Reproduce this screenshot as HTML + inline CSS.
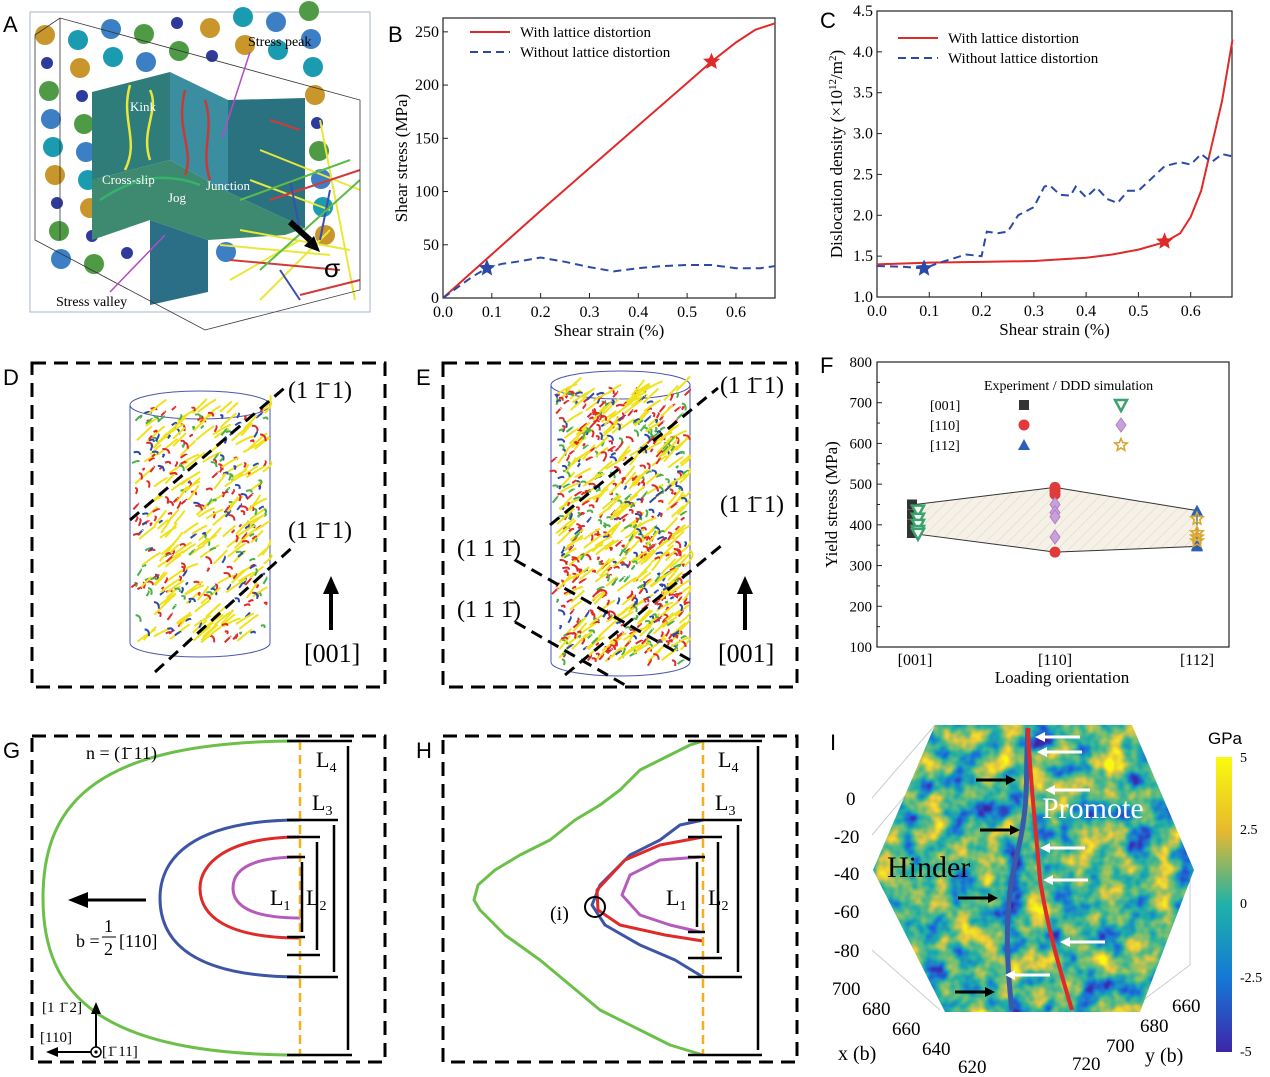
<!DOCTYPE html>
<html><head><meta charset="utf-8"><style>
body{margin:0;background:#fff;width:1270px;height:1077px;overflow:hidden;font-family:"Liberation Serif",serif}
svg{position:absolute;left:0;top:0}
</style></head><body>
<svg id="s" width="1270" height="1077" xmlns="http://www.w3.org/2000/svg" font-family="Liberation Serif, serif">
<defs>
<filter id="noise" x="0" y="0" width="100%" height="100%" color-interpolation-filters="sRGB">
<feTurbulence type="fractalNoise" baseFrequency="0.04" numOctaves="3" seed="4"/>
<feColorMatrix type="matrix" values="1.6 0 0 0 -0.3  1.6 0 0 0 -0.3  1.6 0 0 0 -0.3  0 0 0 0 1"/>
<feComponentTransfer>
<feFuncR type="table" tableValues="0.24 0.10 0.12 0.45 0.90 0.98"/>
<feFuncG type="table" tableValues="0.15 0.45 0.68 0.75 0.78 0.98"/>
<feFuncB type="table" tableValues="0.66 0.85 0.66 0.45 0.25 0.06"/>
</feComponentTransfer>
<feComposite in2="SourceGraphic" operator="in"/>
</filter>
<linearGradient id="parula" x1="0" y1="0" x2="0" y2="1">
<stop offset="0" stop-color="#f9fb0e"/><stop offset="0.25" stop-color="#e7b92e"/><stop offset="0.5" stop-color="#1eb2a8"/><stop offset="0.75" stop-color="#1578d6"/><stop offset="1" stop-color="#3e26a8"/></linearGradient>
<pattern id="hatch" width="8" height="8" patternUnits="userSpaceOnUse" patternTransform="rotate(45)"><rect width="8" height="8" fill="#f6f1e6"/><line x1="0" y1="0" x2="0" y2="8" stroke="#ddd5c4" stroke-width="1"/></pattern>
</defs>

<!-- Panel A -->
<g>
<text x="3" y="32" font-family="Liberation Sans" font-size="22">A</text>
<rect x="30" y="12" width="340" height="300" fill="#fff" stroke="#a9b4c8"/>
<g id="atoms"></g>
<polygon points="92,92 170,72 170,160 92,180" fill="#2f7d7a"/>
<polygon points="170,72 228,100 228,192 170,160" fill="#3a8ea0"/>
<polygon points="228,100 305,98 305,228 228,192" fill="#2a7280"/>
<polygon points="92,180 170,160 228,192 305,228 285,235 208,240 150,220 92,240" fill="#3d8a70"/>
<polygon points="150,220 208,240 208,292 150,305" fill="#2a6f86"/>
<g fill="none" stroke-width="2.5">
<path d="M130,85 C120,120 140,140 125,170" stroke="#e8e83a"/>
<path d="M150,90 C160,110 140,130 150,160" stroke="#e8e83a"/>
<path d="M185,90 C175,130 195,150 185,175" stroke="#c83a3a"/>
<path d="M205,100 C215,130 200,150 210,180" stroke="#c83a3a"/>
<path d="M100,200 C130,180 160,170 200,185" stroke="#35b36b"/>
<path d="M250,180 L330,210 M260,150 L360,190 M240,230 L350,250 M220,245 L330,255 M230,280 L300,240 M260,300 L330,230 M320,120 L355,300" stroke="#e8e83a" stroke-width="2"/>
<path d="M270,200 L360,170 M230,260 L340,270 M300,295 L360,280 M270,120 L300,130" stroke="#d23a3a" stroke-width="2"/>
<path d="M290,180 L300,230 M330,190 L320,240 M280,270 L300,300" stroke="#3a4fb0" stroke-width="2"/>
<path d="M240,200 L350,160 M260,270 L360,180" stroke="#5dbb4a" stroke-width="2"/>
</g>
<g fill="none" stroke="#333" stroke-width="0.8">
<polygon points="35,35 60,18 360,100 360,290 205,330 35,240"/>
<line x1="60" y1="18" x2="60" y2="240"/>
</g>
<text x="248" y="46" font-size="14">Stress peak</text>
<line x1="250" y1="52" x2="222" y2="138" stroke="#b34cc4" stroke-width="1.5"/>
<text x="130" y="111" font-size="13" fill="#fff">Kink</text>
<text x="102" y="184" font-size="13" fill="#fff">Cross-slip</text>
<text x="206" y="190" font-size="13" fill="#fff">Junction</text>
<text x="168" y="202" font-size="13" fill="#fff">Jog</text>
<text x="56" y="306" font-size="14">Stress valley</text>
<line x1="110" y1="292" x2="165" y2="235" stroke="#b34cc4" stroke-width="1.5"/>
<line x1="290" y1="222" x2="310" y2="240" stroke="#000" stroke-width="6"/>
<polygon points="304,246 320,252 314,236" fill="#000"/>
<text x="324" y="277" font-family="Liberation Sans" font-size="26">σ</text>
</g>

<!-- Panel B -->
<g>
<text x="388" y="42" font-family="Liberation Sans" font-size="22">B</text>
<g id="chartB"></g>
</g>
<!-- Panel C -->
<g>
<text x="820" y="28" font-family="Liberation Sans" font-size="22">C</text>
<g id="chartC"></g>
</g>
<!-- Panel F -->
<g>
<text x="820" y="373" font-family="Liberation Sans" font-size="22">F</text>
<g id="chartF"></g>
</g>

<!-- Panel D -->
<g>
<text x="3" y="385" font-family="Liberation Sans" font-size="22">D</text>
<rect x="32" y="363" width="353" height="324" fill="none" stroke="#000" stroke-width="3" stroke-dasharray="14,8"/>
<g id="cylD"></g>
<g stroke="#000" stroke-width="3" stroke-dasharray="12,7" fill="none">
<line x1="130" y1="520" x2="288" y2="385"/><line x1="155" y1="672" x2="295" y2="545"/></g>
<text x="288" y="398" font-size="24">(1 1̄ 1)</text>
<text x="288" y="538" font-size="24">(1 1̄ 1)</text>
<line x1="331" y1="630" x2="331" y2="590" stroke="#000" stroke-width="4"/><polygon points="323,594 339,594 331,576" fill="#000"/>
<text x="304" y="662" font-size="26">[001]</text>
</g>

<!-- Panel E -->
<g>
<text x="416" y="385" font-family="Liberation Sans" font-size="22">E</text>
<rect x="443" y="363" width="354" height="324" fill="none" stroke="#000" stroke-width="3" stroke-dasharray="14,8"/>
<g id="cylE"></g>
<g stroke="#000" stroke-width="3" stroke-dasharray="12,7" fill="none">
<line x1="550" y1="525" x2="718" y2="388"/><line x1="565" y1="675" x2="722" y2="545"/>
<line x1="515" y1="560" x2="690" y2="660"/><line x1="515" y1="622" x2="625" y2="685"/></g>
<text x="720" y="393" font-size="24">(1 1̄ 1)</text>
<text x="720" y="512" font-size="24">(1 1̄ 1)</text>
<text x="457" y="556" font-size="24">(1 1 1̄)</text>
<text x="457" y="617" font-size="24">(1 1 1̄)</text>
<line x1="745" y1="630" x2="745" y2="590" stroke="#000" stroke-width="4"/><polygon points="737,594 753,594 745,576" fill="#000"/>
<text x="718" y="662" font-size="26">[001]</text>
</g>

<!-- Panel G -->
<g>
<text x="3" y="758" font-family="Liberation Sans" font-size="22">G</text>
<rect x="32" y="736" width="353" height="326" fill="none" stroke="#000" stroke-width="3" stroke-dasharray="14,8"/>
<g fill="none" stroke-width="3">
<path d="M300,741 C100,741 43,800 43,898 C43,995 100,1055 300,1055" stroke="#6cc04a"/>
<path d="M300,820 C190,820 160,860 160,898 C160,940 190,977 300,977" stroke="#3d55a6"/>
<path d="M300,837 C225,837 200,865 200,888 C200,915 225,938 300,938" stroke="#e02a2a"/>
<path d="M300,857 C250,857 233,870 233,888 C233,905 250,918 300,918" stroke="#b55bbd"/>
</g>
<line x1="300" y1="741" x2="300" y2="1055" stroke="#f2b01e" stroke-width="2.5" stroke-dasharray="9,5"/>
<g stroke="#000" stroke-width="2.5">
<line x1="287" y1="741" x2="352" y2="741"/><line x1="287" y1="1055" x2="352" y2="1055"/>
<line x1="287" y1="820" x2="338" y2="820"/><line x1="287" y1="977" x2="338" y2="977"/>
<line x1="287" y1="837" x2="320" y2="837"/><line x1="287" y1="955" x2="320" y2="955"/>
<line x1="287" y1="857" x2="305" y2="857"/><line x1="287" y1="937" x2="305" y2="937"/>
<line x1="348" y1="746" x2="348" y2="1050"/><line x1="334" y1="825" x2="334" y2="972"/>
<line x1="317" y1="842" x2="317" y2="950"/><line x1="302" y1="862" x2="302" y2="932"/></g>
<text x="316" y="767" font-size="22">L<tspan font-size="14" dy="5">4</tspan></text>
<text x="312" y="810" font-size="22">L<tspan font-size="14" dy="5">3</tspan></text>
<text x="306" y="905" font-size="22">L<tspan font-size="14" dy="5">2</tspan></text>
<text x="270" y="905" font-size="22">L<tspan font-size="14" dy="5">1</tspan></text>
<text x="86" y="759" font-size="18">n = (1̄ 11)</text>
<line x1="146" y1="900" x2="85" y2="900" stroke="#000" stroke-width="3"/><polygon points="88,892 88,908 68,900" fill="#000"/>
<text x="76" y="947" font-size="18">b =</text>
<text x="104" y="932" font-size="18">1</text><line x1="102" y1="937" x2="116" y2="937" stroke="#000"/><text x="104" y="955" font-size="18">2</text>
<text x="119" y="947" font-size="18">[110]</text>
<line x1="96" y1="1052" x2="96" y2="1012" stroke="#000" stroke-width="2"/><polygon points="91,1014 101,1014 96,1002" fill="#000"/>
<line x1="96" y1="1052" x2="55" y2="1052" stroke="#000" stroke-width="2"/><polygon points="58,1047 58,1057 46,1052" fill="#000"/>
<circle cx="96" cy="1052" r="5" fill="#fff" stroke="#000" stroke-width="1.5"/><circle cx="96" cy="1052" r="1.6"/>
<text x="42" y="1012" font-size="15">[1 1̄ 2]</text>
<text x="40" y="1042" font-size="15">[110]</text>
<text x="102" y="1056" font-size="15">[1̄ 11]</text>
</g>

<!-- Panel H -->
<g>
<text x="416" y="758" font-family="Liberation Sans" font-size="22">H</text>
<rect x="443" y="736" width="354" height="326" fill="none" stroke="#000" stroke-width="3" stroke-dasharray="14,8"/>
<g fill="none" stroke-width="3" stroke-linejoin="round">
<path d="M703,741 L690,745 L660,760 L640,770 L620,790 L600,805 L575,820 L550,840 L520,855 L495,870 L478,885 L474,900 L480,910 L505,935 L540,960 L570,985 L600,1010 L640,1030 L670,1045 L703,1055" stroke="#6cc04a"/>
<path d="M703,820 L680,825 L660,840 L630,855 L600,885 L592,905 L605,925 L640,945 L675,960 L703,977" stroke="#3d55a6"/>
<path d="M703,837 L660,845 L625,860 L597,890 L598,910 L620,925 L665,935 L703,941" stroke="#e02a2a"/>
<path d="M700,857 L660,860 L630,875 L622,895 L640,915 L670,925 L700,932" stroke="#b55bbd"/>
</g>
<line x1="703" y1="741" x2="703" y2="1055" stroke="#f2b01e" stroke-width="2.5" stroke-dasharray="9,5"/>
<g stroke="#000" stroke-width="2.5">
<line x1="688" y1="741" x2="762" y2="741"/><line x1="688" y1="1055" x2="762" y2="1055"/>
<line x1="688" y1="820" x2="742" y2="820"/><line x1="688" y1="977" x2="742" y2="977"/>
<line x1="688" y1="837" x2="722" y2="837"/><line x1="688" y1="958" x2="722" y2="958"/>
<line x1="688" y1="857" x2="705" y2="857"/><line x1="688" y1="932" x2="705" y2="932"/>
<line x1="758" y1="746" x2="758" y2="1050"/><line x1="738" y1="825" x2="738" y2="972"/>
<line x1="718" y1="842" x2="718" y2="953"/><line x1="697" y1="862" x2="697" y2="927"/></g>
<text x="718" y="767" font-size="22">L<tspan font-size="14" dy="5">4</tspan></text>
<text x="715" y="810" font-size="22">L<tspan font-size="14" dy="5">3</tspan></text>
<text x="708" y="905" font-size="22">L<tspan font-size="14" dy="5">2</tspan></text>
<text x="666" y="905" font-size="22">L<tspan font-size="14" dy="5">1</tspan></text>
<circle cx="595" cy="907" r="10" fill="none" stroke="#000" stroke-width="2"/>
<text x="550" y="920" font-size="20">(i)</text>
</g>

<!-- Panel I -->
<g>
<text x="830" y="750" font-family="Liberation Sans" font-size="22">I</text>
<g stroke="#ccc" stroke-width="1" fill="none">
<line x1="872" y1="798" x2="935" y2="725"/><line x1="872" y1="835" x2="935" y2="760"/><line x1="872" y1="950" x2="940" y2="1010"/>
<line x1="1190" y1="870" x2="1190" y2="965"/><line x1="1130" y1="1010" x2="1190" y2="965"/>
</g>
<polygon points="935,725 1132,725 1194,870 1140,1012 945,1012 873,870" fill="#25a5a0" filter="url(#noise)"/>
<path d="M1028,728 C1025,770 1030,800 1018,850 C1005,900 1005,950 1012,1010" stroke="#3a5aa8" stroke-width="5" fill="none"/>
<path d="M1028,728 C1030,780 1036,830 1040,880 C1048,930 1060,970 1072,1010" stroke="#e02a2a" stroke-width="4" fill="none"/>
<g id="arrowsI"></g>
<text x="1042" y="818" font-size="30" fill="#fff">Promote</text>
<text x="887" y="877" font-size="30" fill="#000">Hinder</text>
<g font-size="19">
<text x="846" y="805">0</text><text x="834" y="843">-20</text><text x="834" y="880">-40</text><text x="834" y="918">-60</text><text x="834" y="957">-80</text></g>
<g font-size="19">
<text x="832" y="995">700</text><text x="862" y="1015">680</text><text x="892" y="1035">660</text><text x="922" y="1055">640</text><text x="958" y="1073">620</text></g>
<text x="838" y="1060" font-size="20">x (b)</text>
<g font-size="19">
<text x="1172" y="1012">660</text><text x="1140" y="1032">680</text><text x="1106" y="1052">700</text><text x="1072" y="1070">720</text></g>
<text x="1145" y="1062" font-size="20">y (b)</text>
<rect x="1216" y="757" width="16" height="295" fill="url(#parula)"/>
<text x="1208" y="744" font-family="Liberation Sans" font-size="17">GPa</text>
<g font-size="14">
<text x="1240" y="762">5</text><text x="1240" y="834">2.5</text><text x="1240" y="908">0</text><text x="1240" y="982">-2.5</text><text x="1240" y="1056">-5</text></g>
</g>
</svg>
<script>
const NS="http://www.w3.org/2000/svg";
function mk(parent,tag,attrs,text){const e=document.createElementNS(NS,tag);for(const k in attrs)e.setAttribute(k,attrs[k]);if(text!==undefined)e.textContent=text;parent.appendChild(e);return e;}

// ---------- Chart B data ----------
const bStrain=[0,0.05,0.1,0.2,0.3,0.4,0.5,0.55,0.6,0.64,0.68];
const bWith=[0,20.5,41,82,122,162,202,222,240,252,258];
const bStrainNo=[0,0.03,0.06,0.09,0.12,0.15,0.2,0.25,0.3,0.35,0.4,0.45,0.5,0.55,0.6,0.65,0.68];
const bWithout=[0,10,20,28,32,34,38,34,29,25,28,30,31,31,28,28,30];
const bXTicks=[0,0.1,0.2,0.3,0.4,0.5,0.6];
const bYTicks=[0,50,100,150,200,250];
const bStars=[[0.55,222,"#e02a2a"],[0.09,28,"#2b4aa8"]];

// ---------- Chart C data ----------
const cStrain=[0,0.1,0.2,0.3,0.4,0.45,0.5,0.55,0.58,0.6,0.62,0.64,0.66,0.68];
const cWith=[1.4,1.42,1.43,1.44,1.48,1.52,1.58,1.67,1.78,1.98,2.3,2.85,3.4,4.15];
const cStrainNo=[0,0.05,0.09,0.12,0.15,0.17,0.2,0.21,0.23,0.25,0.27,0.3,0.32,0.33,0.35,0.37,0.38,0.4,0.42,0.44,0.46,0.48,0.5,0.53,0.55,0.58,0.6,0.62,0.64,0.66,0.68];
const cWithout=[1.38,1.37,1.35,1.42,1.48,1.52,1.5,1.8,1.78,1.8,2.0,2.1,2.35,2.37,2.25,2.24,2.35,2.22,2.34,2.2,2.15,2.3,2.3,2.48,2.6,2.65,2.62,2.75,2.65,2.75,2.72];
const cXTicks=[0,0.1,0.2,0.3,0.4,0.5,0.6];
const cYTicks=[1.0,1.5,2.0,2.5,3.0,3.5,4.0,4.5];
const cStars=[[0.55,1.68,"#e02a2a"],[0.09,1.35,"#2b4aa8"]];

// ---------- Chart F data ----------
const fCats=["[001]","[110]","[112]"];
const fUpper=[450,492,435];
const fLower=[378,333,347];
const fExp001=[450,425,400,380];
const fSim001=[435,415,400,385,378];
const fExp110=[492,483,475,333];
const fSim110=[450,430,420,370];
const fExp112=[435,350,347];
const fSim112=[415,380,370,360];
const fYTicks=[100,200,300,400,500,600,700,800];

function starPath(cx,cy,r){let d="";for(let i=0;i<10;i++){const a=-Math.PI/2+i*Math.PI/5;const rr=i%2?r*0.45:r;d+=(i?"L":"M")+(cx+rr*Math.cos(a)).toFixed(1)+","+(cy+rr*Math.sin(a)).toFixed(1);}return d+"Z";}

function lineChart(g,o){
  const sx=v=>o.x0+(v-o.xmin)/(o.xmax-o.xmin)*(o.x1-o.x0);
  const sy=v=>o.y0-(v-o.ymin)/(o.ymax-o.ymin)*(o.y0-o.y1);
  const frame=mk(g,"rect",{x:o.x0,y:o.y1,width:o.x1-o.x0,height:o.y0-o.y1,fill:"none",stroke:"#222","stroke-width":1.2});
  
  
  o.xt.forEach(t=>{const x=sx(t);mk(g,"line",{x1:x,x2:x,y1:o.y0,y2:o.y0-5,stroke:"#222"});
    const l=mk(g,"text",{x:x,y:o.y0+19,"font-size":16,"text-anchor":"middle"},t.toFixed(1));
    
    });
  o.yt.forEach(t=>{const y=sy(t);mk(g,"line",{x1:o.x0,x2:o.x0+5,y1:y,y2:y,stroke:"#222"});
    const l=mk(g,"text",{x:o.x0-4,y:y+5,"font-size":16,"text-anchor":"end"},o.yfmt(t));
    
    });
  const xt=mk(g,"text",{x:(o.x0+o.x1)/2,y:o.y0+38,"font-size":17,"text-anchor":"middle"},"Shear strain (%)");
  
  
  const yt=mk(g,"text",{transform:`translate(${o.ytx},${(o.y0+o.y1)/2}) rotate(-90)`,"font-size":17,"text-anchor":"middle"});
  yt.innerHTML=o.ytitle;
  
  
  const p1=mk(g,"polyline",{points:o.xa.map((v,i)=>sx(v)+","+sy(o.ya[i])).join(" "),fill:"none",stroke:"#e02a2a","stroke-width":2});
  
  
  const p2=mk(g,"polyline",{points:o.xb.map((v,i)=>sx(v)+","+sy(o.yb[i])).join(" "),fill:"none",stroke:"#2b4aa8","stroke-width":2,"stroke-dasharray":"8,5"});
  
  
  o.stars.forEach(s=>{const st=mk(g,"path",{d:starPath(sx(s[0]),sy(s[1]),9),fill:s[2]});
    
    });
  const lg=mk(g,"g",{});
  
  
  mk(lg,"line",{x1:o.lx,x2:o.lx+40,y1:o.ly,y2:o.ly,stroke:"#e02a2a","stroke-width":2});
  mk(lg,"text",{x:o.lx+50,y:o.ly+5,"font-size":15},"With lattice distortion");
  mk(lg,"line",{x1:o.lx,x2:o.lx+40,y1:o.ly+20,y2:o.ly+20,stroke:"#2b4aa8","stroke-width":2,"stroke-dasharray":"8,5"});
  mk(lg,"text",{x:o.lx+50,y:o.ly+25,"font-size":15},"Without lattice distortion");
}
lineChart(document.getElementById("chartB"),{x0:443,x1:775,y0:298,y1:18,xmin:0,xmax:0.68,ymin:0,ymax:263,xt:bXTicks,yt:bYTicks,yfmt:t=>String(t),ytx:407,ytitle:"Shear stress (MPa)",xa:bStrain,ya:bWith,xb:bStrainNo,yb:bWithout,stars:bStars,lx:470,ly:32});
lineChart(document.getElementById("chartC"),{x0:877,x1:1232,y0:297,y1:11,xmin:0,xmax:0.679,ymin:1,ymax:4.5,xt:cXTicks,yt:cYTicks,yfmt:t=>t.toFixed(1),ytx:842,ytitle:'Dislocation density (×10<tspan dy="-6" font-size="11">12</tspan><tspan dy="6">/m</tspan><tspan dy="-6" font-size="11">2</tspan><tspan dy="6">)</tspan>',xa:cStrain,ya:cWith,xb:cStrainNo,yb:cWithout,stars:cStars,lx:898,ly:38});

// ---------- Chart F ----------
(function(){
 const g=document.getElementById("chartF");
 const x0=877,x1=1229,y0=647,y1=362;
 const sy=v=>y0-(v-100)/700*(y0-y1);
 const sx=i=>[915,1055,1197][i];
 mk(g,"rect",{x:x0,y:y1,width:x1-x0,height:y0-y1,fill:"none",stroke:"#222","stroke-width":1.2});
 fYTicks.forEach(t=>{const y=sy(t);mk(g,"line",{x1:x0,x2:x0+5,y1:y,y2:y,stroke:"#222"});
   if(t<800)mk(g,"line",{x1:x0,x2:x0+3,y1:y-(y0-y1)/14,y2:y-(y0-y1)/14,stroke:"#222"});
   const l=mk(g,"text",{x:x0-5,y:y+5,"font-size":15,"text-anchor":"end"},t);
   
   });
 fCats.forEach((c,i)=>{const l=mk(g,"text",{x:sx(i),y:665,"font-size":16,"text-anchor":"middle"},c);
   
   });
 const xt=mk(g,"text",{x:1062,y:683,"font-size":17,"text-anchor":"middle"},"Loading orientation");
 
 
 const yt=mk(g,"text",{transform:`translate(837,${(y0+y1)/2}) rotate(-90)`,"font-size":17,"text-anchor":"middle"},"Yield stress (MPa)");
 
 
 const pts=fUpper.map((v,i)=>sx(i)+","+sy(v)).concat(fLower.map((v,i)=>sx(i)+","+sy(v)).reverse()).join(" ");
 const band=mk(g,"polygon",{points:pts,fill:"url(#hatch)",stroke:"#333","stroke-width":1});
 
 
 function marker(cx,cy,type){
  let e;
  if(type==="sq")e=mk(g,"rect",{x:cx-5,y:cy-5,width:10,height:10,fill:"#333"});
  if(type==="tri-down")e=mk(g,"polygon",{points:`${cx-6},${cy-5} ${cx+6},${cy-5} ${cx},${cy+6}`,fill:"#fff",stroke:"#3aa36b","stroke-width":2.5});
  if(type==="circ")e=mk(g,"circle",{cx:cx,cy:cy,r:5.5,fill:"#e03a3a"});
  if(type==="dia")e=mk(g,"polygon",{points:`${cx},${cy-7} ${cx+5},${cy} ${cx},${cy+7} ${cx-5},${cy}`,fill:"#c9a0d8",stroke:"#b080c8"});
  if(type==="tri")e=mk(g,"polygon",{points:`${cx-6},${cy+5} ${cx+6},${cy+5} ${cx},${cy-6}`,fill:"#2b5fb8"});
  if(type==="star")e=mk(g,"path",{d:starPath(cx,cy,6.5),fill:"none",stroke:"#d9a631","stroke-width":1.6});
  
  
 }
 fExp001.forEach(v=>marker(sx(0)-3,sy(v),"sq"));
 fSim001.forEach(v=>marker(sx(0)+3,sy(v),"tri-down"));
 fExp110.forEach(v=>marker(sx(1),sy(v),"circ"));
 fSim110.forEach(v=>marker(sx(1),sy(v),"dia"));
 fExp112.forEach(v=>marker(sx(2),sy(v),"tri"));
 fSim112.forEach(v=>marker(sx(2),sy(v),"star"));
 const lt=mk(g,"text",{x:984,y:390,"font-size":14},"Experiment / DDD simulation");
 
 
 [["[001]","sq","tri-down"],["[110]","circ","dia"],["[112]","tri","star"]].forEach((r,i)=>{
  const y=405+i*20;
  const t=mk(g,"text",{x:930,y:y+5,"font-size":14},r[0]);
  
  
  marker(1024,y,r[1]);marker(1121,y,r[2]);
 });
})();

// ---------- Decorative: atoms in A ----------
(function(){
 const g=document.getElementById("atoms");
 const cols=["#c8962a","#4f9a45","#1b9bb0","#2e3b9c","#3c7fc4"];
 for(let r=0;r<9;r++)for(let c=0;c<9;c++){
  const x=45+c*33+r*2-0, y=35+r*28-c*3+ (c%2)*8;
  if(x>95&&x<310&&y>70&&y<250)continue;
  if(y>300||x>330)continue;
  const col=cols[(r*3+c*2)%5];
  mk(g,"circle",{cx:x,cy:y,r:(col==="#2e3b9c"?6:10),fill:col});
 }
})();

// ---------- Decorative: cylinders ----------
function cyl(id,x0,x1,yt,yb,n,seed){
 const g=document.getElementById(id);
 const cx=(x0+x1)/2,rx=(x1-x0)/2;
 mk(g,"path",{d:`M${x0},${yt} L${x0},${yb} A${rx},14 0 0 0 ${x1},${yb} L${x1},${yt}`,fill:"none",stroke:"#4a57b0","stroke-width":1});
 mk(g,"ellipse",{cx:cx,cy:yt,rx:rx,ry:14,fill:"none",stroke:"#4a57b0","stroke-width":1});
 let s=seed;const rnd=()=>{s=(s*9301+49297)%233280;return s/233280;};
 const cols=["#f0e21a","#f0e21a","#e02a2a","#e02a2a","#2b4aa8","#4bb04a"];
 for(let i=0;i<n;i++){
  const x=x0+5+rnd()*(x1-x0-10),y=yt+5+rnd()*(yb-yt-5),col=cols[Math.floor(rnd()*6)];
  const yl=col==="#f0e21a";
  const dx=yl?10+rnd()*10:(rnd()-0.5)*14,dy=yl?-8-rnd()*8:(rnd()-0.5)*14;
  mk(g,"path",{d:`M${x},${y} q${dx/2+3},${dy/2-3} ${Math.min(dx,x1-x)},${dy}`,fill:"none",stroke:col,"stroke-width":2});
 }
}
cyl("cylD",130,270,405,643,420,7);
cyl("cylE",551,690,385,662,800,11);

// ---------- arrows in I ----------
(function(){
 const g=document.getElementById("arrowsI");
 [[1080,737],[1082,752],[1090,790],[1085,848],[1088,880],[1105,942],[1050,975]].forEach(a=>{
  mk(g,"line",{x1:a[0],y1:a[1],x2:a[0]-35,y2:a[1],stroke:"#fff","stroke-width":3});
  mk(g,"polygon",{points:`${a[0]-35},${a[1]-5} ${a[0]-35},${a[1]+5} ${a[0]-45},${a[1]}`,fill:"#fff"});});
 [[976,780],[980,830],[958,898],[955,992]].forEach(a=>{
  mk(g,"line",{x1:a[0],y1:a[1],x2:a[0]+30,y2:a[1],stroke:"#000","stroke-width":3});
  mk(g,"polygon",{points:`${a[0]+30},${a[1]-5} ${a[0]+30},${a[1]+5} ${a[0]+40},${a[1]}`,fill:"#000"});});
})();
</script>
</body></html>
